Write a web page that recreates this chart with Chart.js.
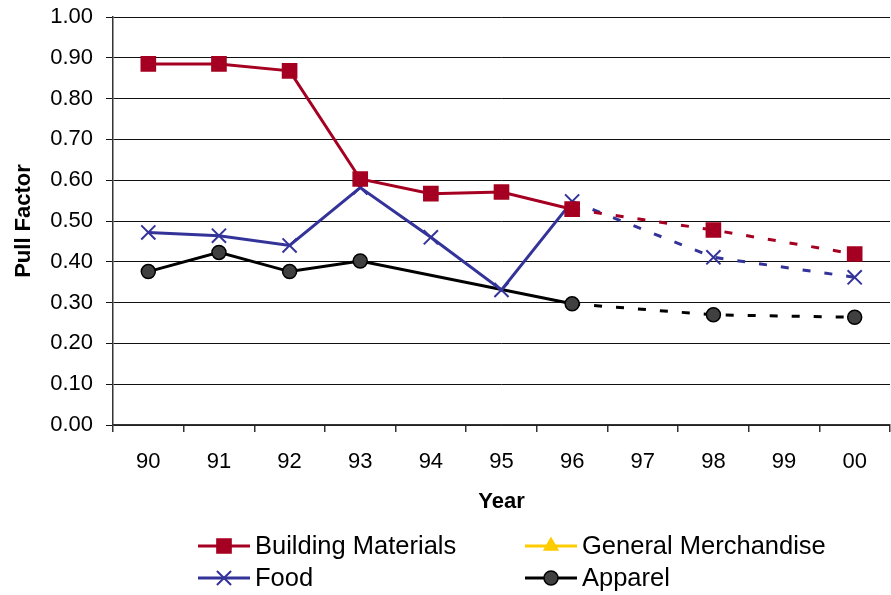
<!DOCTYPE html>
<html>
<head>
<meta charset="utf-8">
<script src="https://cdn.jsdelivr.net/npm/chart.js@4.4.1/dist/chart.umd.min.js"></script>
<style>
    html, body { margin: 0; padding: 0; background: #fff; }
    #wrap { width: 891px; height: 595px; position: relative; }
</style>
</head>
<body>
<div id="wrap"><canvas id="chart"></canvas></div>
<script>
// data (97 and 99 have no survey values)
var years = ['90', '91', '92', '93', '94', '95', '96', '97', '98', '99', '00'];
var buildingMaterials = [0.885, 0.885, 0.868, 0.603, 0.567, 0.571, 0.529, null, 0.478, null, 0.419];
var generalMerchandise = [null, null, null, null, null, null, null, null, null, null, null];
var food = [0.472, 0.464, 0.440, 0.582, 0.460, 0.331, 0.548, null, 0.411, null, 0.362];
var apparel = [0.376, 0.423, 0.376, 0.402, null, null, 0.297, null, 0.270, null, 0.264];
var yMin = 0, yMax = 1, yStep = 0.1;

var FONT = 'Liberation Sans, Arial, sans-serif';
var DASH_FROM = 6; // dashed after 96

function series(label, data, color, style, radius, fill, border) {
    return {
        label: label,
        data: data,
        borderColor: color,
        backgroundColor: fill,
        borderWidth: 3,
        pointStyle: style,
        pointRadius: radius,
        pointHoverRadius: radius,
        pointBackgroundColor: fill,
        pointBorderColor: border,
        pointBorderWidth: style === 'crossRot' ? 2 : 1.5,
        spanGaps: true,
        tension: 0,
        segment: {
            borderDash: function (ctx) { return ctx.p0DataIndex >= DASH_FROM ? [8, 14] : undefined; }
        }
    };
}

var datasets = [
    series('Building Materials', buildingMaterials, '#A50021', 'rect', 10, '#A50021', '#A50021'),
    series('General Merchandise', generalMerchandise, '#FFCC00', 'triangle', 8, '#FFCC00', '#FFCC00'),
    series('Food', food, '#333399', 'crossRot', 10, '#333399', '#333399'),
    series('Apparel', apparel, '#000000', 'circle', 7, '#404040', '#000000')
];

// legend in two columns below the axis
var legendPlugin = {
    id: 'twoColLegend',
    afterDraw: function (chart) {
        var ctx = chart.ctx;
        var cols = [198, 525], rows = [546, 578];
        ctx.save();
        chart.data.datasets.forEach(function (ds, i) {
            var x = cols[i % 2], y = rows[Math.floor(i / 2)];
            ctx.strokeStyle = ds.borderColor;
            ctx.lineWidth = 3;
            ctx.setLineDash([]);
            ctx.beginPath();
            ctx.moveTo(x, y);
            ctx.lineTo(x + 52, y);
            ctx.stroke();
            ctx.fillStyle = ds.pointBackgroundColor;
            ctx.strokeStyle = ds.pointBorderColor;
            ctx.lineWidth = ds.pointBorderWidth;
            Chart.helpers.drawPoint(ctx, { pointStyle: ds.pointStyle, radius: ds.pointRadius, rotation: 0, borderWidth: ds.pointBorderWidth }, x + 26, y);
            ctx.fillStyle = '#000';
            ctx.font = '25.5px ' + FONT;
            ctx.textBaseline = 'middle';
            ctx.textAlign = 'left';
            ctx.fillText(ds.label, x + 57, y + 1);
        });
        ctx.restore();
    }
};

new Chart(document.getElementById('chart'), {
    type: 'line',
    data: { labels: years, datasets: datasets },
    options: {
        responsive: true,
        maintainAspectRatio: false,
        animation: false,
        layout: { autoPadding: false, padding: { top: 17, right: 1, bottom: 80, left: 0 } },
        plugins: {
            legend: { display: false },
            tooltip: { enabled: false }
        },
        scales: {
            x: {
                offset: true,
                grid: { offset: true, drawOnChartArea: false, drawTicks: true, tickLength: 7, color: '#333', lineWidth: 1.5 },
                border: { display: true, color: '#333', width: 1.5 },
                ticks: { color: '#000', font: { family: FONT, size: 22 }, padding: 17, maxRotation: 0, autoSkip: false },
                title: { display: true, text: 'Year', color: '#000', font: { family: FONT, size: 22, weight: 'bold' }, padding: { top: 0, bottom: 0 } },
                afterFit: function (scale) { scale.height = 90; scale.paddingLeft = 0; scale.paddingRight = 0; }
            },
            y: {
                min: yMin,
                max: yMax,
                grid: { color: '#111', lineWidth: 1, drawTicks: true, tickLength: 7 },
                border: { display: true, color: '#333', width: 1.5 },
                ticks: {
                    stepSize: yStep,
                    color: '#000',
                    font: { family: FONT, size: 22 },
                    padding: 13,
                    callback: function (v) { return Number(v).toFixed(2); }
                },
                title: { display: true, text: 'Pull Factor', color: '#000', font: { family: FONT, size: 22, weight: 'bold' }, padding: { top: 11, bottom: 0 } },
                afterFit: function (scale) {
                    scale.width = 113;
                    scale.paddingTop = 0;
                    scale.paddingBottom = 0;
                    if (scale._margins) { scale._margins.top = 0; scale._margins.bottom = 0; }
                }
            }
        }
    },
    plugins: [legendPlugin]
});
</script>
</body>
</html>
